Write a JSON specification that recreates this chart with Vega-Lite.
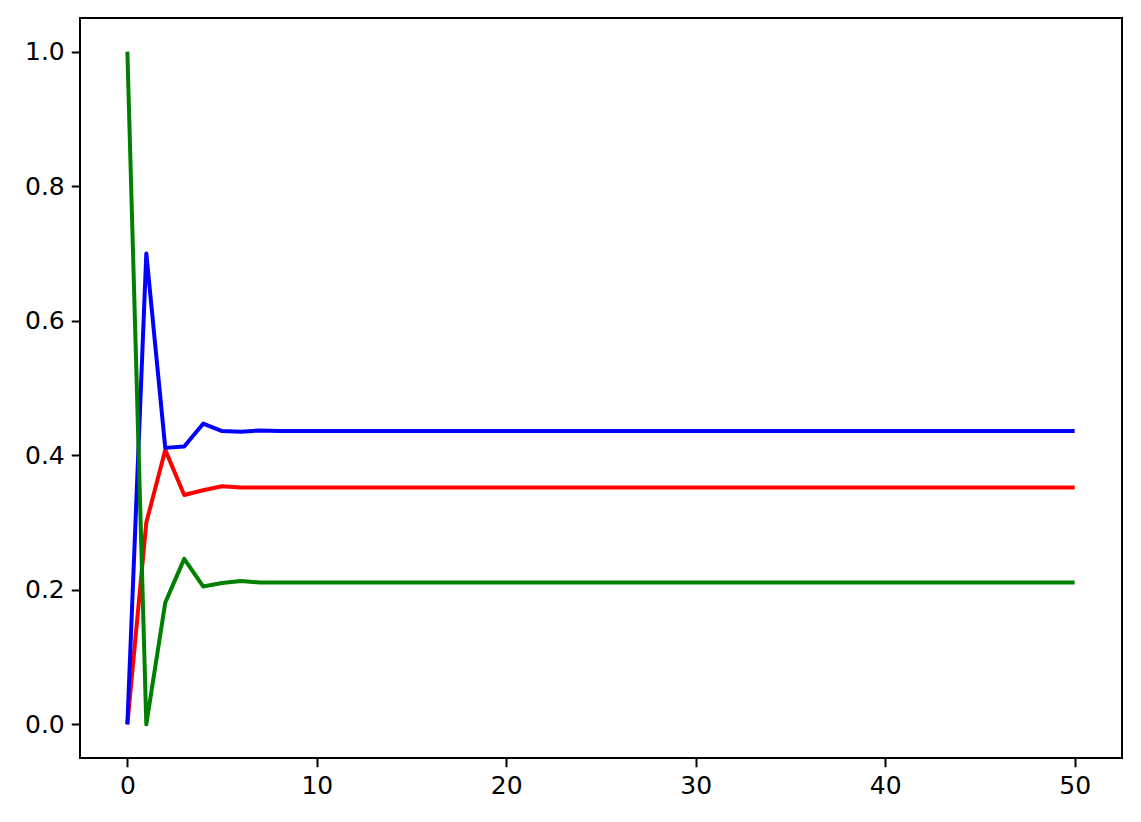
{
  "$schema": "https://vega.github.io/schema/vega-lite/v6.json",
  "autosize": "none",
  "width": 1042,
  "height": 740,
  "padding": {"left": 80, "top": 18, "right": 19, "bottom": 64},
  "background": "white",
  "data": {
    "values": [
      {"x": 0, "r": 0, "b": 0, "g": 1},
      {"x": 1, "r": 0.3, "b": 0.7, "g": 0},
      {"x": 2, "r": 0.408, "b": 0.411, "g": 0.181},
      {"x": 3, "r": 0.341, "b": 0.413, "g": 0.246},
      {"x": 4, "r": 0.348, "b": 0.447, "g": 0.205},
      {"x": 5, "r": 0.354, "b": 0.436, "g": 0.21},
      {"x": 6, "r": 0.352, "b": 0.435, "g": 0.213},
      {"x": 7, "r": 0.352, "b": 0.437, "g": 0.211},
      {"x": 8, "r": 0.352, "b": 0.436, "g": 0.211},
      {"x": 9, "r": 0.352, "b": 0.436, "g": 0.211},
      {"x": 10, "r": 0.352, "b": 0.436, "g": 0.211},
      {"x": 11, "r": 0.352, "b": 0.436, "g": 0.211},
      {"x": 12, "r": 0.352, "b": 0.436, "g": 0.211},
      {"x": 13, "r": 0.352, "b": 0.436, "g": 0.211},
      {"x": 14, "r": 0.352, "b": 0.436, "g": 0.211},
      {"x": 15, "r": 0.352, "b": 0.436, "g": 0.211},
      {"x": 16, "r": 0.352, "b": 0.436, "g": 0.211},
      {"x": 17, "r": 0.352, "b": 0.436, "g": 0.211},
      {"x": 18, "r": 0.352, "b": 0.436, "g": 0.211},
      {"x": 19, "r": 0.352, "b": 0.436, "g": 0.211},
      {"x": 20, "r": 0.352, "b": 0.436, "g": 0.211},
      {"x": 21, "r": 0.352, "b": 0.436, "g": 0.211},
      {"x": 22, "r": 0.352, "b": 0.436, "g": 0.211},
      {"x": 23, "r": 0.352, "b": 0.436, "g": 0.211},
      {"x": 24, "r": 0.352, "b": 0.436, "g": 0.211},
      {"x": 25, "r": 0.352, "b": 0.436, "g": 0.211},
      {"x": 26, "r": 0.352, "b": 0.436, "g": 0.211},
      {"x": 27, "r": 0.352, "b": 0.436, "g": 0.211},
      {"x": 28, "r": 0.352, "b": 0.436, "g": 0.211},
      {"x": 29, "r": 0.352, "b": 0.436, "g": 0.211},
      {"x": 30, "r": 0.352, "b": 0.436, "g": 0.211},
      {"x": 31, "r": 0.352, "b": 0.436, "g": 0.211},
      {"x": 32, "r": 0.352, "b": 0.436, "g": 0.211},
      {"x": 33, "r": 0.352, "b": 0.436, "g": 0.211},
      {"x": 34, "r": 0.352, "b": 0.436, "g": 0.211},
      {"x": 35, "r": 0.352, "b": 0.436, "g": 0.211},
      {"x": 36, "r": 0.352, "b": 0.436, "g": 0.211},
      {"x": 37, "r": 0.352, "b": 0.436, "g": 0.211},
      {"x": 38, "r": 0.352, "b": 0.436, "g": 0.211},
      {"x": 39, "r": 0.352, "b": 0.436, "g": 0.211},
      {"x": 40, "r": 0.352, "b": 0.436, "g": 0.211},
      {"x": 41, "r": 0.352, "b": 0.436, "g": 0.211},
      {"x": 42, "r": 0.352, "b": 0.436, "g": 0.211},
      {"x": 43, "r": 0.352, "b": 0.436, "g": 0.211},
      {"x": 44, "r": 0.352, "b": 0.436, "g": 0.211},
      {"x": 45, "r": 0.352, "b": 0.436, "g": 0.211},
      {"x": 46, "r": 0.352, "b": 0.436, "g": 0.211},
      {"x": 47, "r": 0.352, "b": 0.436, "g": 0.211},
      {"x": 48, "r": 0.352, "b": 0.436, "g": 0.211},
      {"x": 49, "r": 0.352, "b": 0.436, "g": 0.211},
      {"x": 50, "r": 0.352, "b": 0.436, "g": 0.211}
    ]
  },
  "transform": [{"fold": ["r", "b", "g"], "as": ["series", "value"]}],
  "mark": {"type": "line", "strokeWidth": 4, "strokeJoin": "round"},
  "encoding": {
    "x": {
      "field": "x",
      "type": "quantitative",
      "title": null,
      "scale": {"domain": [-2.5, 52.5], "nice": false, "zero": false},
      "axis": {"values": [0, 10, 20, 30, 40, 50], "format": "d"}
    },
    "y": {
      "field": "value",
      "type": "quantitative",
      "title": null,
      "scale": {"domain": [-0.05, 1.05], "nice": false, "zero": false},
      "axis": {"values": [0, 0.2, 0.4, 0.6, 0.8, 1.0], "format": ".1f"}
    },
    "color": {
      "field": "series",
      "type": "nominal",
      "scale": {"domain": ["r", "b", "g"], "range": ["#ff0000", "#0000ff", "#008000"]},
      "legend": null
    },
    "order": {"field": "x", "type": "quantitative"}
  },
  "config": {
    "view": {"stroke": "black", "strokeWidth": 2},
    "axis": {
      "grid": false,
      "domain": false,
      "ticks": true,
      "tickColor": "black",
      "tickWidth": 2,
      "tickSize": 8.75,
      "labelFont": "DejaVu Sans",
      "labelFontSize": 25,
      "labelColor": "black",
      "labelPadding": 7
    }
  }
}
